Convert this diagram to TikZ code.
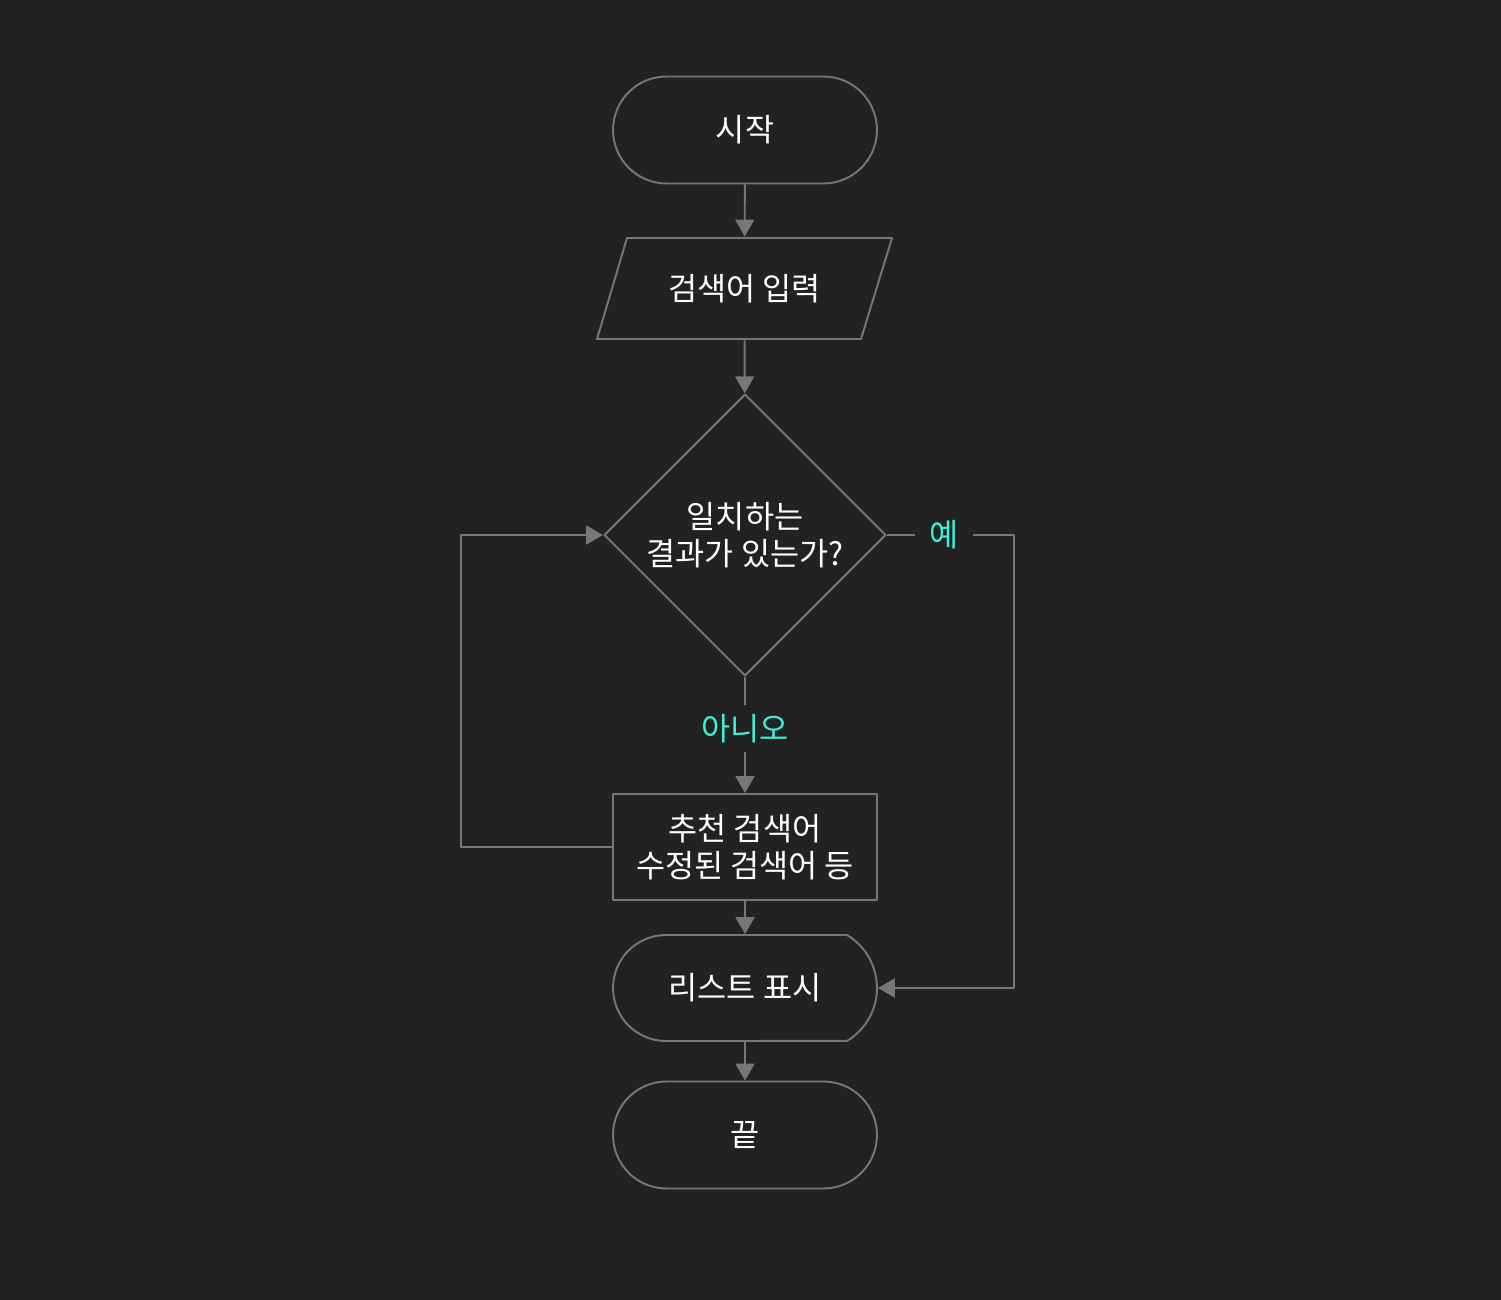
\documentclass[tikz,border=0pt]{standalone}
\usepackage{fontspec}
\setmainfont{Noto Sans CJK KR}
\usetikzlibrary{shapes.geometric,shapes.misc,arrows.meta,positioning}
\definecolor{bgc}{HTML}{222222}
\definecolor{linec}{HTML}{777777}
\definecolor{labc}{HTML}{3CF0D8}
\tikzset{
	base/.style={draw=linec, line width=1.1pt, text=white, font=\fontsize{18}{21}\selectfont, align=center, inner sep=0pt},
	term/.style={base, rounded rectangle, minimum width=5.28cm, minimum height=2.14cm},
	plain/.style={base, draw=none, rectangle, minimum width=5.28cm, minimum height=2.04cm},
	decide/.style={base, diamond, minimum width=5.64cm, minimum height=5.64cm},
	proc/.style={base, rectangle, minimum width=5.28cm, minimum height=2.12cm},
	lbl/.style={text=labc, font=\fontsize{18}{21}\selectfont, inner sep=0pt, minimum width=1.16cm, minimum height=0.94cm},
	line/.style={draw=linec, line width=1.1pt},
	conn/.style={line, -{Triangle[length=0.34cm,width=0.38cm]}}
}
\begin{document}
\begin{tikzpicture}[x=0.02cm, y=-0.02cm, line join=round]
	\fill[bgc] (0,0) rectangle (1501,1300);
	\node[term] (start) at (745,130) {시작};
	\draw[line] (627,238) -- (892,238) -- (861,339) -- (597,339) -- cycle;
	\node[plain] (input) at (744.5,288.5) {검색어 입력};
	\node[decide] (match) at (745,535) {일치하는\\결과가 있는가?};
	\node[lbl] (no) at (745,728.5) {아니오};
	\node[lbl] (yes) at (944,535) {예};
	\node[proc] (suggest) at (745,847) {추천 검색어\\수정된 검색어 등};
	\draw[line] (666,935) -- (847,935) arc[start angle=59, end angle=-59, radius=1.236cm] -- (666,1041) arc[start angle=270, end angle=90, radius=1.06cm] -- cycle;
	\node[plain, minimum height=2.12cm] (show) at (745,988) {리스트 표시};
	\node[term] (stop) at (745,1135) {끝};
	\coordinate (lt) at (461,535);
	\coordinate (rt) at (1014,535);
	\draw[conn] (start) -- (input);
	\draw[conn] (input) -- (match);
	\draw[line] (match) -- (no);
	\draw[conn] (no) -- (suggest);
	\draw[conn] (suggest) -- (show);
	\draw[conn] (show) -- (stop);
	\draw[conn] (suggest.west) -| (lt) -- (match.west);
	\draw[line] (match.east) -- (yes.west);
	\draw[conn] (yes.east) -- (rt) |- (show.east);
\end{tikzpicture}
\end{document}
